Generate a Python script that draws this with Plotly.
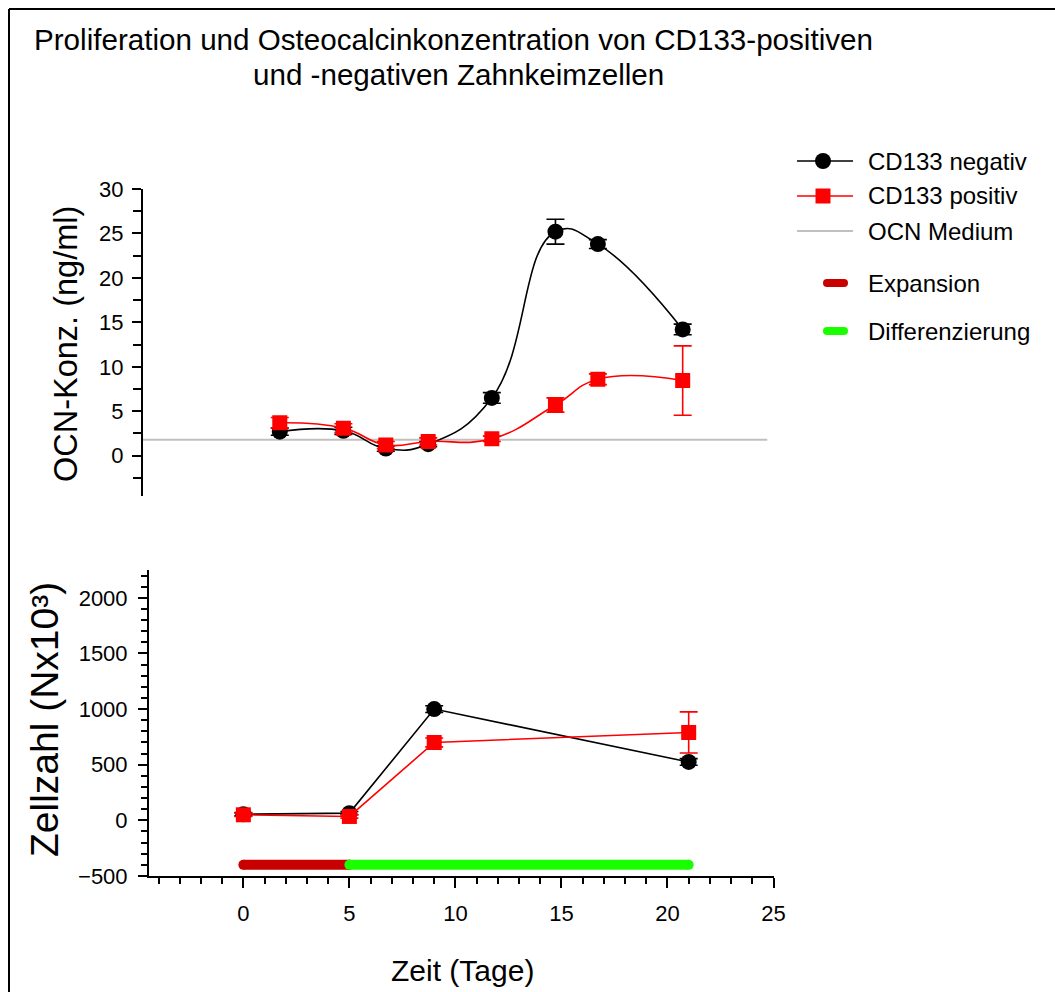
import plotly.graph_objects as go

# ---------------- data ----------------
days_ocn = [2, 5, 7, 9, 12, 15, 17, 21]
ocn_neg = [2.7, 2.8, 0.8, 1.3, 6.5, 25.2, 23.8, 14.2]
ocn_neg_err = [0.4, 0.4, 0.3, 0.3, 0.6, 1.4, 0.5, 0.6]
ocn_pos = [3.7, 3.1, 1.2, 1.6, 1.9, 5.7, 8.6, 8.45]
ocn_pos_err = [0.6, 0.5, 0.4, 0.4, 0.3, 0.8, 0.6, 3.9]
ocn_medium = 1.8

days_cells = [0, 5, 9, 21]
cells_neg = [55, 65, 1000, 525]
cells_neg_err = [15, 15, 30, 30]
cells_pos = [50, 35, 700, 790]
cells_pos_err = [15, 15, 40, 185]

phase_names = ["Expansion", "Differenzierung"]
phase_start = [0, 5]
phase_end = [5, 21]
phase_colors = ["#c80000", "#1aff00"]
phase_level = -400

series_names = ["CD133 negativ", "CD133 positiv", "OCN Medium"]
series_colors = ["black", "#ff0000", "#c0c0c0"]
series_symbols = ["circle", "square", None]

x_range = [-4.45, 25]
ocn_range = [-4.5, 30]
ocn_ticks = [0, 5, 10, 15, 20, 25, 30]
cell_range = [-500, 2250]
cell_ticks = [-500, 0, 500, 1000, 1500, 2000]
x_ticks = [0, 5, 10, 15, 20, 25]

W, H = 1055, 992
FONT = "Liberation Sans, Arial, sans-serif"


def fx(px):
    return px / W


def fy(py):
    return 1 - py / H


fig = go.Figure()

# ---- top panel: OCN concentration ----
fig.add_trace(go.Scatter(
    x=x_range, y=[ocn_medium, ocn_medium], name=series_names[2],
    mode="lines", line=dict(color=series_colors[2], width=2),
    xaxis="x", yaxis="y", hoverinfo="skip"))
fig.add_trace(go.Scatter(
    x=days_ocn, y=ocn_neg, name=series_names[0],
    mode="lines+markers", line=dict(color=series_colors[0], width=1.6, shape="spline", smoothing=1.3),
    marker=dict(symbol="circle", size=16, color=series_colors[0]),
    error_y=dict(type="data", array=ocn_neg_err, color=series_colors[0], thickness=1.6, width=9),
    xaxis="x", yaxis="y"))
fig.add_trace(go.Scatter(
    x=days_ocn, y=ocn_pos, name=series_names[1],
    mode="lines+markers", line=dict(color=series_colors[1], width=1.6, shape="spline", smoothing=1.3),
    marker=dict(symbol="square", size=15, color=series_colors[1]),
    error_y=dict(type="data", array=ocn_pos_err, color=series_colors[1], thickness=1.6, width=9),
    xaxis="x", yaxis="y"))

# ---- bottom panel: phases ----
for nm, s, e, c in zip(phase_names, phase_start, phase_end, phase_colors):
    fig.add_trace(go.Scatter(
        x=[s, e], y=[phase_level, phase_level], name=nm,
        mode="lines+markers", line=dict(color=c, width=10),
        marker=dict(symbol="circle", size=10, color=c),
        xaxis="x2", yaxis="y2"))

# ---- bottom panel: cell numbers ----
fig.add_trace(go.Scatter(
    x=days_cells, y=cells_neg, name=series_names[0],
    mode="lines+markers", line=dict(color=series_colors[0], width=1.6),
    marker=dict(symbol="circle", size=16, color=series_colors[0]),
    error_y=dict(type="data", array=cells_neg_err, color=series_colors[0], thickness=1.6, width=9),
    xaxis="x2", yaxis="y2"))
fig.add_trace(go.Scatter(
    x=days_cells, y=cells_pos, name=series_names[1],
    mode="lines+markers", line=dict(color=series_colors[1], width=1.6),
    marker=dict(symbol="square", size=15, color=series_colors[1]),
    error_y=dict(type="data", array=cells_pos_err, color=series_colors[1], thickness=1.6, width=9),
    xaxis="x2", yaxis="y2"))

tickfont = dict(family=FONT, size=22, color="black")

fig.update_layout(
    template="none",
    width=W, height=H, autosize=False,
    margin=dict(l=0, r=0, t=0, b=0, pad=0),
    paper_bgcolor="white", plot_bgcolor="white",
    font=dict(family=FONT, color="black"),
    showlegend=False,
    xaxis=dict(domain=[fx(143), fx(767.5)], range=x_range, visible=False, anchor="y", automargin=False),
    yaxis=dict(domain=[fy(495.7), fy(189)], range=ocn_range, anchor="x", automargin=False,
               showline=True, linecolor="black", linewidth=2,
               showgrid=False, zeroline=False,
               tickmode="array", tickvals=ocn_ticks, ticks="outside", ticklen=9, tickwidth=2,
               tickcolor="black", tickfont=tickfont, ticklabelstandoff=4,
               minor=dict(dtick=2.5, tick0=0, ticks="outside", ticklen=8, tickwidth=2, tickcolor="black",
                          showgrid=False)),
    xaxis2=dict(domain=[fx(149), fx(773.5)], range=x_range, anchor="y2", automargin=False,
                showline=True, linecolor="black", linewidth=2,
                showgrid=False, zeroline=False,
                tickmode="array", tickvals=x_ticks, ticks="outside", ticklen=10, tickwidth=2,
                tickcolor="black", tickfont=tickfont, ticklabelstandoff=7,
                minor=dict(dtick=1, tick0=0, ticks="outside", ticklen=6, tickwidth=2, tickcolor="black",
                           showgrid=False)),
    yaxis2=dict(domain=[fy(876), fy(570)], range=cell_range, anchor="x2", automargin=False,
                showline=True, linecolor="black", linewidth=2,
                showgrid=False, zeroline=False,
                tickmode="array", tickvals=cell_ticks, ticks="outside", ticklen=9, tickwidth=2,
                tickcolor="black", tickfont=tickfont, ticklabelstandoff=6,
                minor=dict(dtick=100, tick0=0, ticks="outside", ticklen=6, tickwidth=2, tickcolor="black",
                           showgrid=False)),
)

annotations = [
    dict(text="Proliferation und Osteocalcinkonzentration von CD133-positiven",
         x=fx(453), y=fy(40), font=dict(family=FONT, size=29.6, color="black")),
    dict(text="und -negativen Zahnkeimzellen",
         x=fx(458), y=fy(75), font=dict(family=FONT, size=29.6, color="black")),
    dict(text="OCN-Konz. (ng/ml)", textangle=-90,
         x=fx(66), y=fy(344), font=dict(family=FONT, size=32.5, color="black")),
    dict(text="Zellzahl (Nx10³)", textangle=-90,
         x=fx(44), y=fy(720), font=dict(family=FONT, size=39, color="black")),
    dict(text="Zeit (Tage)",
         x=fx(462), y=fy(970), font=dict(family=FONT, size=30, color="black")),
]

# ---- legend (drawn manually to match the original layout) ----
legend_rows = [161, 196, 231]
legend_font = dict(family=FONT, size=24, color="black")
shapes = []
for nm, col, sym, ry in zip(series_names, series_colors, series_symbols, legend_rows):
    shapes.append(dict(type="line", xref="paper", yref="paper",
                       x0=fx(797), x1=fx(853), y0=fy(ry), y1=fy(ry),
                       line=dict(color=col, width=1.6 if sym else 2)))
    if sym == "circle":
        shapes.append(dict(type="circle", xref="paper", yref="paper",
                           x0=fx(823 - 8), x1=fx(823 + 8), y0=fy(ry + 8), y1=fy(ry - 8),
                           fillcolor=col, line=dict(color=col, width=0)))
    elif sym == "square":
        shapes.append(dict(type="rect", xref="paper", yref="paper",
                           x0=fx(823 - 7.5), x1=fx(823 + 7.5), y0=fy(ry + 7.5), y1=fy(ry - 7.5),
                           fillcolor=col, line=dict(color=col, width=0)))
    annotations.append(dict(text=nm, x=fx(866), y=fy(ry), xanchor="left", font=legend_font))

phase_rows = [283, 331]
for nm, col, ry in zip(phase_names, phase_colors, phase_rows):
    shapes.append(dict(type="line", xref="paper", yref="paper",
                       x0=fx(827), x1=fx(844), y0=fy(ry), y1=fy(ry),
                       line=dict(color=col, width=8)))
    for cx in (827, 844):
        shapes.append(dict(type="circle", xref="paper", yref="paper",
                           x0=fx(cx - 4), x1=fx(cx + 4), y0=fy(ry + 4), y1=fy(ry - 4),
                           fillcolor=col, line=dict(color=col, width=0)))
    annotations.append(dict(text=nm, x=fx(866), y=fy(ry), xanchor="left", font=legend_font))

for a in annotations:
    a.setdefault("xref", "paper")
    a.setdefault("yref", "paper")
    a.setdefault("showarrow", False)
    a.setdefault("xanchor", "center")
    a.setdefault("yanchor", "middle")

# outer frame (left and top edges visible in the original)
shapes.append(dict(type="line", xref="paper", yref="paper",
                   x0=fx(9), x1=fx(9), y0=0, y1=fy(9),
                   line=dict(color="black", width=2), layer="above"))
shapes.append(dict(type="line", xref="paper", yref="paper",
                   x0=fx(9), x1=1, y0=fy(9), y1=fy(9),
                   line=dict(color="black", width=2), layer="above"))

fig.update_layout(annotations=annotations, shapes=shapes)

fig.write_html("out.html", config={"responsive": False, "displayModeBar": False},
               post_script="document.body.style.margin='0';document.body.style.overflow='hidden';")
